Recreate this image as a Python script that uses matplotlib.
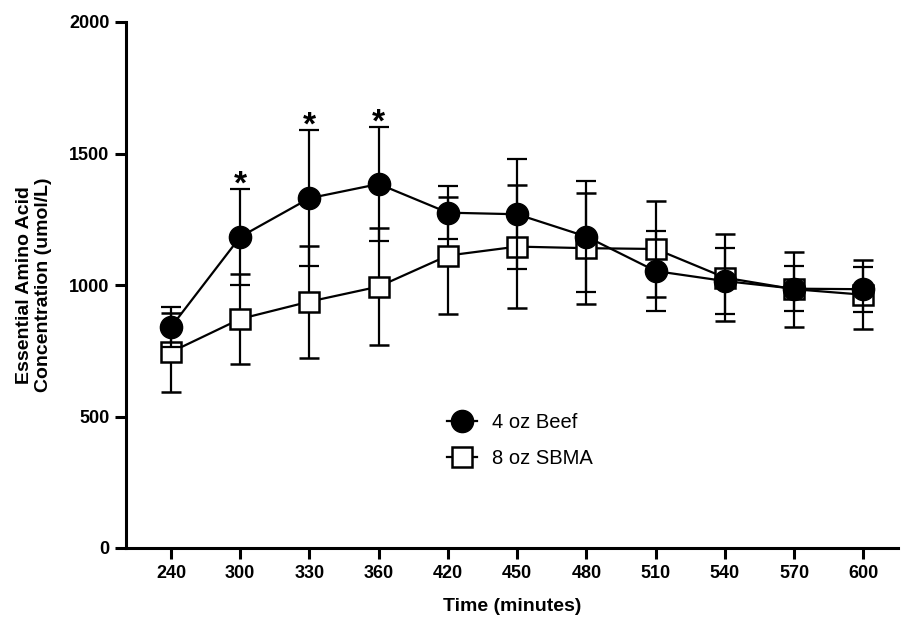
import os

import matplotlib.pyplot as plt
import numpy as np
from matplotlib import font_manager as fm

# ------------------------------------------------------------
# Data
# ------------------------------------------------------------
time_labels = ["240", "300", "330", "360", "420", "450", "480", "510", "540", "570", "600"]

beef_mean = [840, 1183, 1330, 1384, 1275, 1269, 1184, 1053, 1015, 986, 984]
beef_sd = [76, 182, 259, 216, 100, 210, 211, 151, 124, 85, 86]

sbma_mean = [745, 871, 937, 994, 1112, 1146, 1140, 1137, 1028, 984, 963]
sbma_sd = [150, 172, 213, 224, 222, 234, 211, 184, 166, 143, 131]

sig_labels = ["300", "330", "360"]


def find_font(basename):
    for f in fm.fontManager.ttflist:
        if os.path.basename(f.fname) == basename:
            return fm.FontProperties(fname=f.fname)
    return None


bold_fp = find_font("LiberationSans-Bold.ttf")
reg_fp = find_font("LiberationSans-Regular.ttf")
if bold_fp is None:
    bold_fp = fm.FontProperties(family="DejaVu Sans", weight="bold")
if reg_fp is None:
    reg_fp = fm.FontProperties(family="DejaVu Sans")


def fp(base, size):
    p = base.copy()
    p.set_size(size)
    return p


fig = plt.figure(figsize=(9.01, 6.19), dpi=100)
ax = fig.add_axes([126 / 901, 71 / 619, 772 / 901, 526 / 619])

x = np.arange(len(time_labels))
lw = 1.6

sbma = ax.errorbar(x, sbma_mean, yerr=sbma_sd, color="black", lw=lw, elinewidth=lw,
                   capsize=7.5, capthick=lw, marker="s", markersize=15, mfc="white",
                   mec="black", mew=1.8, zorder=2)
beef = ax.errorbar(x, beef_mean, yerr=beef_sd, color="black", lw=lw, elinewidth=lw,
                   capsize=7.5, capthick=lw, marker="o", markersize=16, mfc="black",
                   mec="black", zorder=3)

for lab in sig_labels:
    i = time_labels.index(lab)
    ax.annotate("*", (x[i], beef_mean[i] + beef_sd[i]), xytext=(0, -3),
                textcoords="offset points", ha="center", va="baseline",
                fontproperties=fp(bold_fp, 24))

ax.set_xlim(-0.65, 10.5)
ax.set_ylim(0, 2000)
ax.set_xticks(x)
ax.set_xticklabels(time_labels)
ax.set_yticks([0, 500, 1000, 1500, 2000])

for side in ["top", "right"]:
    ax.spines[side].set_visible(False)
for side in ["left", "bottom"]:
    ax.spines[side].set_linewidth(2.2)

ax.tick_params(axis="both", length=8, width=2.2, pad=4)
for t in ax.get_xticklabels() + ax.get_yticklabels():
    t.set_fontproperties(fp(bold_fp, 13))

ax.set_xlabel("Time (minutes)", fontproperties=fp(bold_fp, 14), labelpad=12)
ax.set_ylabel("Essential Amino Acid\nConcentration (umol/L)",
              fontproperties=fp(bold_fp, 14), labelpad=12)

# legend shows only the marker + line, no error caps
leg = ax.legend([beef[0], sbma[0]], ["4 oz Beef", "8 oz SBMA"], loc="upper left",
                bbox_to_anchor=(0.392, 0.291), frameon=False,
                prop=fp(reg_fp, 14.5), handlelength=1.5,
                labelspacing=0.85, handletextpad=0.75)

fig.savefig("out.png", dpi=100)
